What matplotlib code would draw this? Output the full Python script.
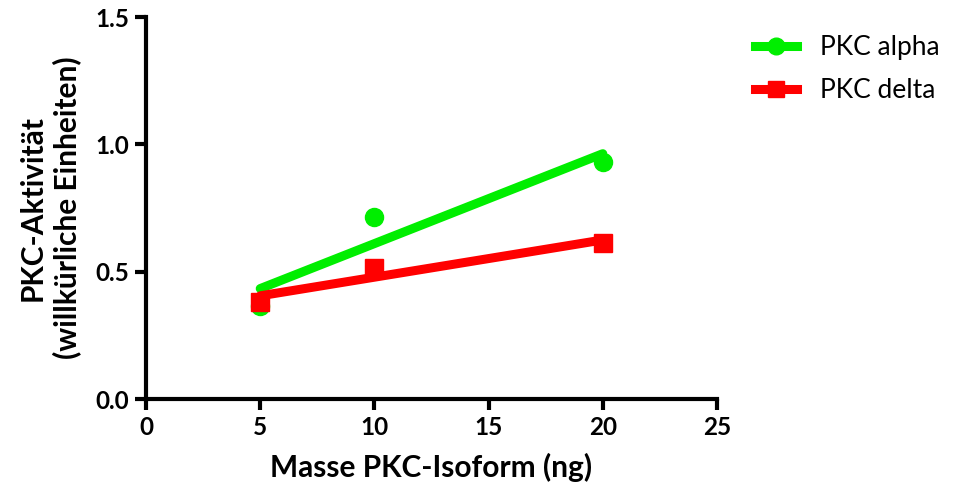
import numpy as np
import matplotlib
matplotlib.use("Agg")
import matplotlib.pyplot as plt

plt.rcParams['font.family'] = ['Lato', 'DejaVu Sans']

# Measured activity per isoform mass
mass_ng = [5, 10, 20]
alpha_activity = [0.365, 0.713, 0.929]
delta_activity = [0.382, 0.513, 0.613]

series_names = ["PKC alpha", "PKC delta"]
x_ticks = [0, 5, 10, 15, 20, 25]
y_ticks = [0.0, 0.5, 1.0, 1.5]

fig = plt.figure(figsize=(9.55, 4.9), dpi=100)
ax = fig.add_axes([146 / 955, 1 - 399 / 490, (717 - 146) / 955, (399 - 17) / 490])

x = np.array(mass_ng, dtype=float)
styles = [
    (alpha_activity, "#00ee00", "o", 13),
    (delta_activity, "#ff0000", "s", 13),
]
handles = []
for (vals, color, marker, ms), name in zip(styles, series_names):
    y = np.array(vals)
    slope, intercept = np.polyfit(x, y, 1)
    xf = np.array([x.min(), x.max()])
    ax.plot(xf, slope * xf + intercept, color=color, lw=6.5,
            solid_capstyle="round", zorder=2)
    ax.plot(x, y, linestyle="none", marker=marker, ms=ms, color=color,
            mec=color, zorder=3)
    h, = ax.plot([], [], color=color, lw=6.5, marker=marker, ms=12, mec=color)
    handles.append(h)

ax.set_xlim(0, 25)
ax.set_ylim(0, 1.5)
ax.set_xticks(x_ticks)
ax.set_yticks(y_ticks)
ax.set_xticklabels([str(t) for t in x_ticks])
ax.set_yticklabels([f"{t:.1f}" for t in y_ticks])

for side in ("top", "right"):
    ax.spines[side].set_visible(False)
for side in ("left", "bottom"):
    ax.spines[side].set_linewidth(3)
ax.tick_params(axis="both", width=3, length=8, direction="out",
               labelsize=17.5, pad=4)
for lab in ax.get_xticklabels() + ax.get_yticklabels():
    lab.set_fontweight("bold")

ax.set_xlabel("Masse PKC-Isoform (ng)", fontsize=21.5, fontweight="bold",
              labelpad=10)
ax.set_ylabel("PKC-Aktivität\n(willkürliche Einheiten)", fontsize=21.5,
              fontweight="bold", labelpad=10, linespacing=1.25)

fig.legend(handles, series_names, loc="upper left",
           bbox_to_anchor=(755 / 955, 1 - 35 / 490), frameon=False,
           fontsize=19, handlelength=1.6, handletextpad=0.85,
           labelspacing=0.7, borderpad=0, borderaxespad=0)

fig.savefig("out.png", dpi=100)
